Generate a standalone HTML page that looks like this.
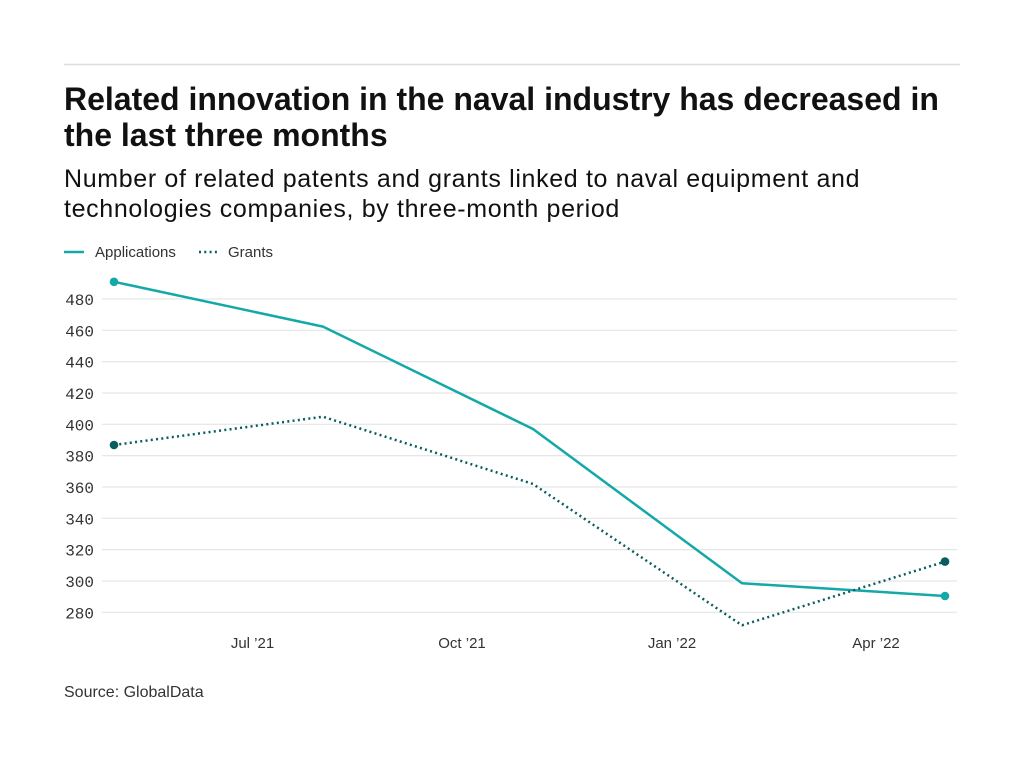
<!DOCTYPE html>
<html>
<head>
<meta charset="utf-8">
<style>
html,body{margin:0;padding:0;background:#fff;}
body{width:1024px;height:768px;overflow:hidden;}
svg{display:block;}
</style>
</head>
<body>
<svg width="1024" height="768" viewBox="0 0 1024 768" xmlns="http://www.w3.org/2000/svg">
  <rect x="0" y="0" width="1024" height="768" fill="#fff"/>
  <line x1="64" y1="64.5" x2="960" y2="64.5" stroke="#dcdcdc" stroke-width="1.5"/>
  <g font-family="'Liberation Sans', sans-serif" fill="#111">
    <text x="64" y="110" font-size="32" font-weight="bold">Related innovation in the naval industry has decreased in</text>
    <text x="64" y="146" font-size="32" font-weight="bold">the last three months</text>
    <text x="64" y="187" font-size="25" letter-spacing="0.65">Number of related patents and grants linked to naval equipment and</text>
    <text x="64" y="217" font-size="25" letter-spacing="0.65">technologies companies, by three-month period</text>
  </g>
  <!-- legend -->
  <line x1="64" y1="252" x2="84" y2="252" stroke="#14a8a8" stroke-width="2.5"/>
  <text x="95" y="257" font-family="'Liberation Sans', sans-serif" font-size="15" fill="#333">Applications</text>
  <line x1="199" y1="252" x2="219" y2="252" stroke="#0a5c5e" stroke-width="2.5" stroke-dasharray="2 3.3"/>
  <text x="228" y="257" font-family="'Liberation Sans', sans-serif" font-size="15" fill="#333">Grants</text>
  <!-- grid -->
  <g stroke="#e6e6e6" stroke-width="1.2">
    <line x1="102" y1="299" x2="957" y2="299"/>
    <line x1="102" y1="330.3" x2="957" y2="330.3"/>
    <line x1="102" y1="361.6" x2="957" y2="361.6"/>
    <line x1="102" y1="393" x2="957" y2="393"/>
    <line x1="102" y1="424.3" x2="957" y2="424.3"/>
    <line x1="102" y1="455.6" x2="957" y2="455.6"/>
    <line x1="102" y1="487" x2="957" y2="487"/>
    <line x1="102" y1="518.3" x2="957" y2="518.3"/>
    <line x1="102" y1="549.6" x2="957" y2="549.6"/>
    <line x1="102" y1="581" x2="957" y2="581"/>
    <line x1="102" y1="612.3" x2="957" y2="612.3"/>
  </g>
  <g font-family="'Liberation Mono', monospace" font-size="16" fill="#333" text-anchor="end">
    <text x="94" y="305">480</text>
    <text x="94" y="336.3">460</text>
    <text x="94" y="367.6">440</text>
    <text x="94" y="399">420</text>
    <text x="94" y="430.3">400</text>
    <text x="94" y="461.6">380</text>
    <text x="94" y="493">360</text>
    <text x="94" y="524.3">340</text>
    <text x="94" y="555.6">320</text>
    <text x="94" y="587">300</text>
    <text x="94" y="618.3">280</text>
  </g>
  <g font-family="'Liberation Sans', sans-serif" font-size="15" fill="#333" text-anchor="middle">
    <text x="252.5" y="648">Jul ’21</text>
    <text x="462" y="648">Oct ’21</text>
    <text x="672" y="648">Jan ’22</text>
    <text x="876" y="648">Apr ’22</text>
  </g>
  <!-- series -->
  <polyline points="114,281.8 323,326.6 533,429 742,583.3 945,596" fill="none" stroke="#14a8a8" stroke-width="2.5" stroke-linejoin="round"/>
  <polyline points="114,445 323,416.7 533,484 742,625.3 945,561.6" fill="none" stroke="#0a5c5e" stroke-width="2.5" stroke-dasharray="2 3.3"/>
  <circle cx="114" cy="281.8" r="4.3" fill="#14a8a8"/>
  <circle cx="945" cy="596" r="4.3" fill="#14a8a8"/>
  <circle cx="114" cy="445" r="4.3" fill="#0a5c5e"/>
  <circle cx="945" cy="561.6" r="4.3" fill="#0a5c5e"/>
  <text x="64" y="697" font-family="'Liberation Sans', sans-serif" font-size="16" fill="#333">Source: GlobalData</text>
</svg>
</body>
</html>
